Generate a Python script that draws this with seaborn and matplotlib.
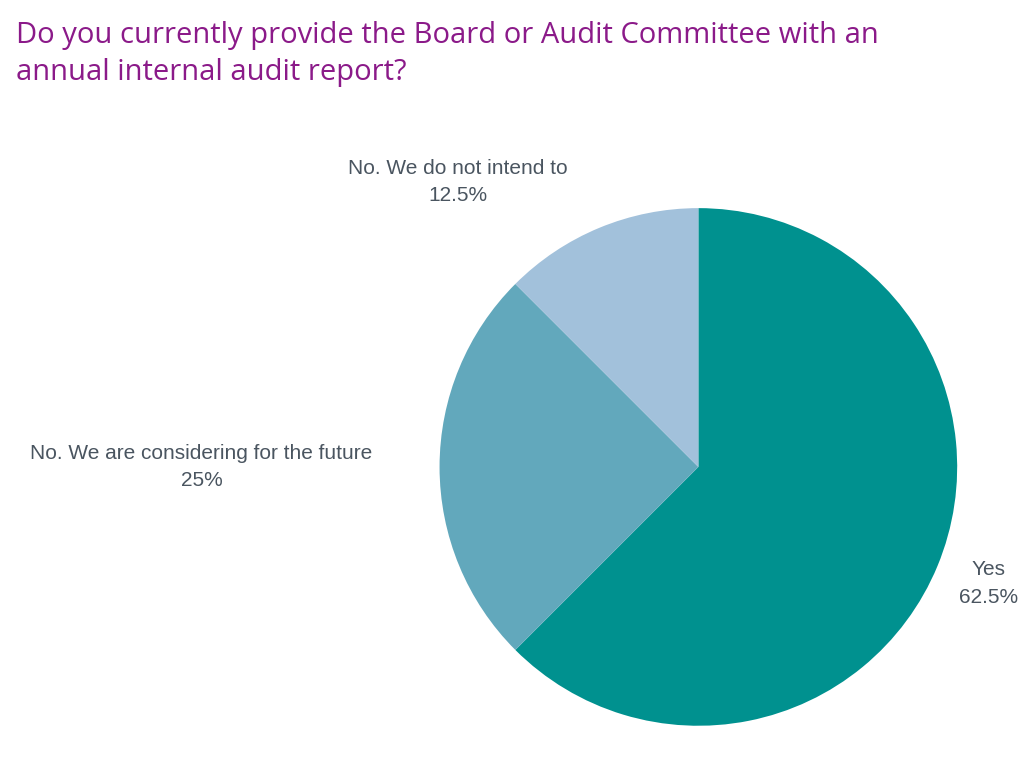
import matplotlib
matplotlib.use("Agg")
import matplotlib.pyplot as plt
import seaborn as sns

sns.set_theme(style="white")
plt.rcParams['font.family'] = ['Liberation Sans', 'DejaVu Sans']

categories = ["Yes", "No. We are considering for the future", "No. We do not intend to"]
values = [62.5, 25, 12.5]
pct_labels = ["62.5%", "25%", "12.5%"]
colors = ["#00918F", "#62A8BC", "#A2C1DB"]
label_pos = [(1.12, -0.45), (-1.92, 0.0), (-0.93, 1.10)]

fig = plt.figure(figsize=(10.24, 7.68), dpi=100)
fig.text(0.016, 0.93, "Do you currently provide the Board or Audit Committee with an\nannual internal audit report?",
         fontsize=21, color="#8B1A89", va="center", ha="left", family=["Open Sans", "DejaVu Sans"],
         linespacing=1.35)
ax = fig.add_axes([0.682 - 0.253, 0.392 - 0.337, 0.506, 0.674])
ax.pie(values, colors=colors, startangle=90, counterclock=False,
       wedgeprops=dict(linewidth=0))
for cat, pct, (x, y) in zip(categories, pct_labels, label_pos):
    ax.text(x, y, f"{cat}\n{pct}", ha="center", va="center", fontsize=15,
            color="#4A5560", linespacing=1.55)
ax.set_xlim(-1, 1)
ax.set_ylim(-1, 1)
ax.set_aspect("equal")
fig.savefig("out.png", dpi=100)
